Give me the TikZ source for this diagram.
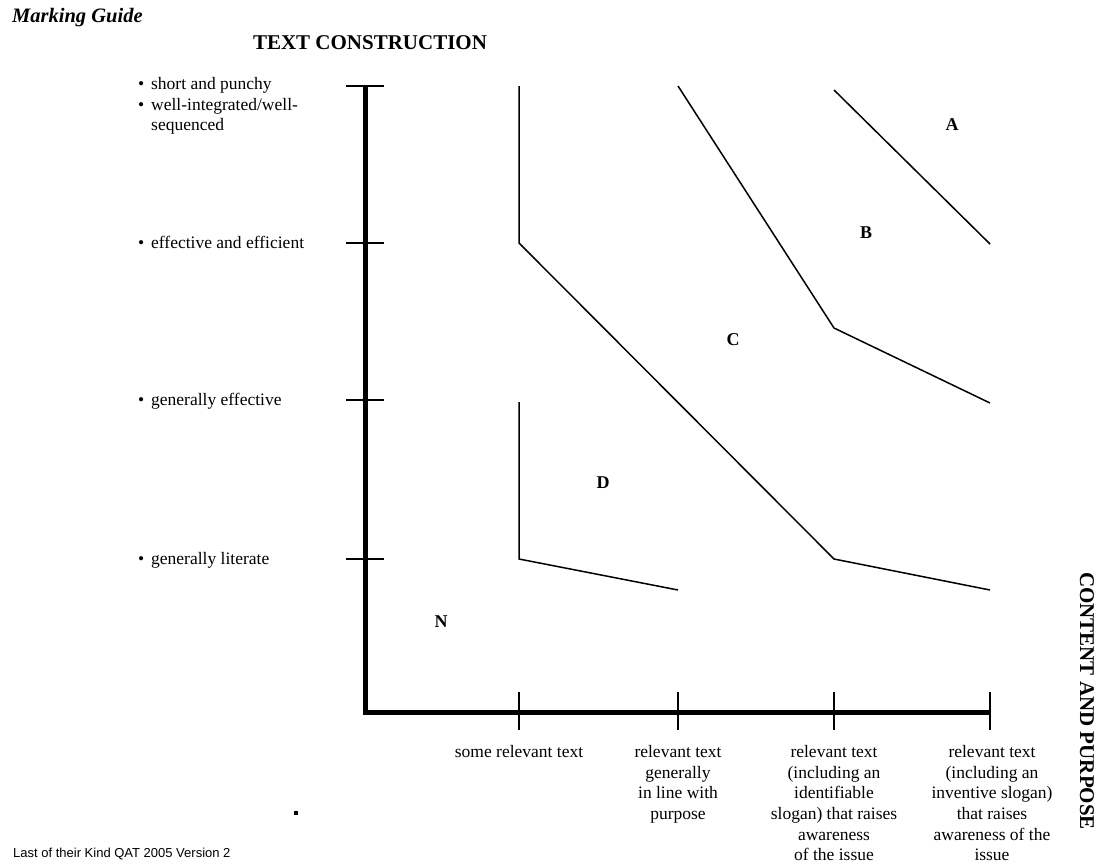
\documentclass[tikz,border=0pt]{standalone}
\usepackage{fontspec}
\setmainfont{Liberation Serif}
\newfontfamily\footfont{Liberation Sans}
\begin{document}
\begin{tikzpicture}[x=1pt,y=-1pt,
  axisline/.style={line width=5pt},
  tickline/.style={line width=2.2pt},
  bound/.style={line width=1.5pt, line join=miter},
  lbl/.style={font=\fontsize{17.5}{20.7}\selectfont, inner sep=0pt},
  grade/.style={font=\bfseries\fontsize{18}{20}\selectfont, inner sep=0pt},
  heading/.style={font=\bfseries\fontsize{21}{24}\selectfont, inner sep=0pt}]
\useasboundingbox (0,0) rectangle (1102,867);

% grid coordinates
\coordinate (O) at (365,712);
\coordinate (Ytop) at (365,86);
\coordinate (Xend) at (990,712);
\foreach \n/\y in {1/86,2/243,3/400,4/559}{
  \coordinate (yl\n) at (346,\y);
  \coordinate (yr\n) at (384,\y);
}
\foreach \n/\x in {1/519,2/678,3/834,4/990}{
  \coordinate (xt\n) at (\x,692);
  \coordinate (xb\n) at (\x,730);
}

% axes
\draw[axisline] (Ytop) -- (O) -- (Xend);
\foreach \n in {1,...,4}{
  \draw[tickline] (yl\n) -- (yr\n);
  \draw[tickline] (xt\n) -- (xb\n);
}

% boundary lines
\coordinate (dc1) at (519,86);
\coordinate (dc2) at (519,243);
\coordinate (dc3) at (834,559);
\coordinate (dc4) at (990,590);
\draw[bound] (dc1) -- (dc2) -- (dc3) -- (dc4);

\coordinate (bc1) at (678,86);
\coordinate (bc2) at (834,328);
\coordinate (bc3) at (990,403);
\draw[bound] (bc1) -- (bc2) -- (bc3);

\coordinate (ab1) at (834,90);
\coordinate (ab2) at (990,244);
\draw[bound] (ab1) -- (ab2);

\coordinate (d1) at (519,402);
\coordinate (d2) at (519,559);
\coordinate (d3) at (678,590);
\draw[bound] (d1) -- (d2) -- (d3);

% grade labels
\node[grade] (gA) at (952,125) {A};
\node[grade] (gB) at (866,233) {B};
\node[grade] (gC) at (733,340) {C};
\node[grade] (gD) at (603,483) {D};
\node[grade] (gN) at (441,622) {N};

% headings
\node[font=\bfseries\itshape\fontsize{20.5}{24}\selectfont, inner sep=0pt, anchor=west] (mg) at (12,18) {Marking Guide};
\node[heading] (tc) at (370,43) {TEXT CONSTRUCTION};
\node[heading, rotate=-90] (cp) at (1087,701) {CONTENT AND PURPOSE};

% left labels
\node[lbl, anchor=north west, align=left] (l1) at (138,77)
  {\makebox[13pt][l]{•}short and punchy\\
   \makebox[13pt][l]{•}well-integrated/well-\\
   \hspace*{13pt}sequenced};
\node[lbl, anchor=base west] (l2) at (138,248) {\makebox[13pt][l]{•}effective and efficient};
\node[lbl, anchor=base west] (l3) at (138,405) {\makebox[13pt][l]{•}generally effective};
\node[lbl, anchor=base west] (l4) at (138,564) {\makebox[13pt][l]{•}generally literate};

% bottom labels
\node[lbl, anchor=north, align=center] (b1) at (519,745) {some relevant text};
\node[lbl, anchor=north, align=center] (b2) at (678,745) {relevant text\\generally\\in line with\\purpose};
\node[lbl, anchor=north, align=center] (b3) at (834,745) {relevant text\\(including an\\identifiable\\slogan) that raises\\awareness\\of the issue};
\node[lbl, anchor=north, align=center] (b4) at (992,745) {relevant text\\(including an\\inventive slogan)\\that raises\\awareness of the\\issue};

% small dot and footer
\fill (294,811) rectangle (298,815);
\node[font=\footfont\fontsize{13}{15}\selectfont, inner sep=0pt, anchor=west] (foot) at (13,854) {Last of their Kind QAT 2005 Version 2};
\end{tikzpicture}
\end{document}
